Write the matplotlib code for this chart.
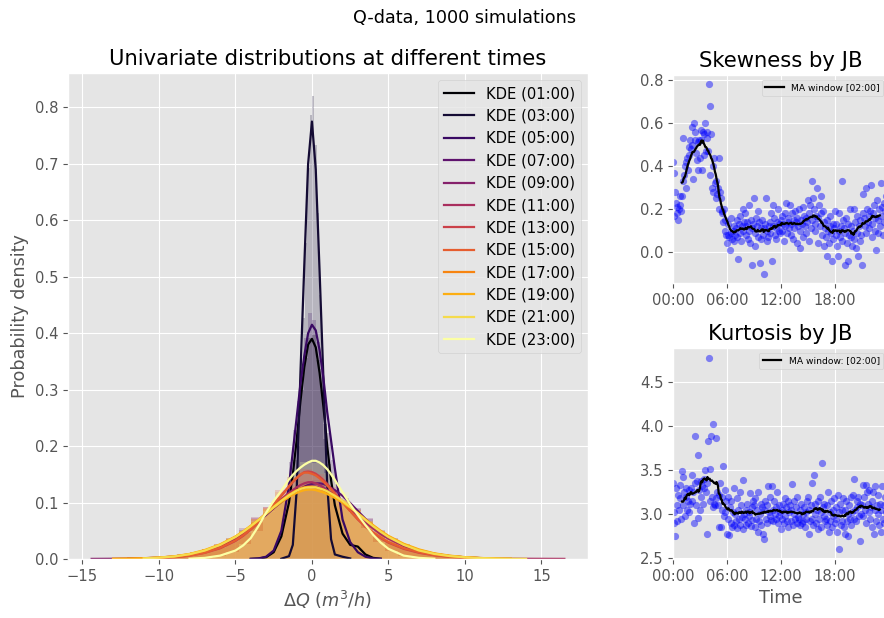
import numpy as np
import pandas as pd
import matplotlib
matplotlib.use("Agg")
import matplotlib.pyplot as plt
from matplotlib.ticker import FuncFormatter, MultipleLocator

plt.style.use("ggplot")
plt.rcParams["font.size"] = 10.6

NA = np.nan

# ---------------------------------------------------------------- left panel data
time_labels = ["01:00", "03:00", "05:00", "07:00", "09:00", "11:00",
               "13:00", "15:00", "17:00", "19:00", "21:00", "23:00"]

# evaluation grid of the kernel density estimates (m3/h)
kde_x = [-14.4, -13, -12, -11, -10, -9, -8, -7, -6, -5, -4.5, -4, -3.5, -3, -2.5, -2,
         -1.5, -1.25, -1, -0.75, -0.5, -0.25, 0, 0.25, 0.5, 0.75, 1, 1.25, 1.5,
         2, 2.5, 3, 3.5, 4, 4.5, 5, 6, 7, 8, 9, 10, 11, 12, 13, 14, 15, 16.5]

kde_0100 = [NA, NA, NA, NA, NA, NA, NA, NA, NA, NA, NA,
            0.0002, 0.0008, 0.003, 0.012, 0.040, 0.100, 0.150, 0.210, 0.280, 0.340, 0.380,
            0.390, 0.375, 0.330, 0.270, 0.200, 0.140, 0.095, 0.045, 0.025, 0.022, 0.008,
            0.002, 0.0005,
            NA, NA, NA, NA, NA, NA, NA, NA, NA, NA, NA, NA]
kde_0300 = [NA, NA, NA, NA, NA, NA, NA, NA, NA, NA, NA, NA, NA, NA, NA,
            0.0005, 0.005, 0.025, 0.120, 0.330, 0.520, 0.700, 0.775, 0.690, 0.510, 0.320,
            0.130, 0.035, 0.008, 0.004, 0.001,
            NA, NA, NA, NA, NA, NA, NA, NA, NA, NA, NA, NA, NA, NA, NA, NA]
kde_0500 = [NA, NA, NA, NA, NA, NA, NA, NA, NA, NA, NA,
            0.0003, 0.001, 0.004, 0.015, 0.050, 0.130, 0.190, 0.250, 0.310, 0.360, 0.400,
            0.415, 0.405, 0.370, 0.320, 0.260, 0.210, 0.160, 0.070, 0.030, 0.012, 0.004,
            0.001, 0.0003,
            NA, NA, NA, NA, NA, NA, NA, NA, NA, NA, NA, NA]
kde_0700 = [NA, NA,
            0.0005, 0.001, 0.002, 0.004, 0.007, 0.013, 0.022, 0.036, 0.045, 0.055, 0.066,
            0.078, 0.090, 0.101, 0.111, 0.116, 0.120, 0.124, 0.128, 0.131, 0.133, 0.134,
            0.134, 0.133, 0.130, 0.126, 0.122, 0.112, 0.099, 0.085, 0.071, 0.058, 0.047,
            0.038, 0.024, 0.015, 0.009, 0.005, 0.003, 0.0015, 0.0008, 0.0003,
            NA, NA, NA]
kde_0900 = [0.0002, 0.0004, 0.0008, 0.0014, 0.0025, 0.0045, 0.008, 0.014, 0.024, 0.038,
            0.047, 0.057, 0.068, 0.080, 0.092, 0.103, 0.113, 0.117, 0.121, 0.124, 0.126,
            0.128, 0.128, 0.128, 0.126, 0.123, 0.120, 0.116, 0.112, 0.102, 0.091, 0.080,
            0.068, 0.057, 0.047, 0.038, 0.025, 0.015, 0.009, 0.005, 0.0028, 0.0014, 0.0006,
            NA, NA, NA, NA]
kde_1100 = [NA, NA,
            0.0006, 0.0012, 0.0022, 0.004, 0.0075, 0.013, 0.023, 0.037, 0.046, 0.056, 0.068,
            0.081, 0.094, 0.106, 0.117, 0.122, 0.127, 0.131, 0.134, 0.136, 0.136, 0.134,
            0.131, 0.127, 0.122, 0.117, 0.112, 0.101, 0.089, 0.077, 0.065, 0.054, 0.044,
            0.036, 0.023, 0.014, 0.0085, 0.005, 0.003, 0.0017, 0.001, 0.0006, 0.0004,
            0.0003, 0.0002]
kde_1300 = [NA, NA, NA,
            0.0008, 0.0016, 0.003, 0.006, 0.011, 0.019, 0.032, 0.041, 0.052, 0.065, 0.080,
            0.096, 0.112, 0.128, 0.136, 0.143, 0.149, 0.154, 0.155, 0.154, 0.151, 0.146,
            0.140, 0.133, 0.125, 0.117, 0.101, 0.085, 0.070, 0.057, 0.046, 0.037, 0.029,
            0.018, 0.011, 0.0065, 0.0038, 0.002, 0.001, 0.0005,
            NA, NA, NA, NA]
kde_1500 = [NA, NA, NA,
            0.0008, 0.0017, 0.0032, 0.006, 0.011, 0.020, 0.033, 0.042, 0.053, 0.066, 0.081,
            0.097, 0.113, 0.129, 0.137, 0.144, 0.150, 0.153, 0.153, 0.151, 0.148, 0.143,
            0.137, 0.130, 0.123, 0.115, 0.100, 0.085, 0.071, 0.058, 0.047, 0.038, 0.030,
            0.019, 0.012, 0.007, 0.004, 0.0022, 0.0012, 0.0006,
            NA, NA, NA, NA]
kde_1700 = [NA,
            0.0003, 0.0006, 0.0012, 0.0024, 0.0045, 0.0085, 0.015, 0.025, 0.039, 0.048,
            0.058, 0.069, 0.081, 0.093, 0.104, 0.114, 0.118, 0.122, 0.125, 0.127, 0.128,
            0.128, 0.127, 0.125, 0.122, 0.119, 0.115, 0.111, 0.102, 0.092, 0.081, 0.070,
            0.059, 0.049, 0.040, 0.026, 0.016, 0.0095, 0.0055, 0.003, 0.0016, 0.0008, 0.0004,
            NA, NA, NA]
kde_1900 = [NA,
            0.0003, 0.0007, 0.0013, 0.0026, 0.0048, 0.009, 0.016, 0.026, 0.040, 0.049,
            0.059, 0.069, 0.080, 0.091, 0.101, 0.110, 0.114, 0.117, 0.120, 0.122, 0.123,
            0.123, 0.122, 0.120, 0.118, 0.115, 0.112, 0.108, 0.100, 0.091, 0.081, 0.070,
            0.060, 0.050, 0.041, 0.027, 0.017, 0.010, 0.006, 0.0033, 0.0018, 0.0009, 0.0004,
            NA, NA, NA]
kde_2100 = [NA, NA, NA,
            0.0012, 0.0024, 0.0045, 0.0085, 0.015, 0.025, 0.039, 0.048, 0.058, 0.069, 0.080,
            0.092, 0.103, 0.113, 0.117, 0.121, 0.124, 0.126, 0.127, 0.127, 0.127, 0.125,
            0.123, 0.120, 0.116, 0.112, 0.103, 0.092, 0.081, 0.069, 0.058, 0.048, 0.039,
            0.025, 0.015, 0.009, 0.0052, 0.003, 0.0017, 0.0009, 0.0005, 0.0003,
            NA, NA]
kde_2300 = [NA, NA, NA, NA, NA, NA,
            0.0005, 0.002, 0.006, 0.015, 0.024, 0.037, 0.058, 0.082, 0.103, 0.121, 0.141,
            0.149, 0.156, 0.162, 0.167, 0.171, 0.174, 0.174, 0.171, 0.166, 0.159, 0.150,
            0.140, 0.118, 0.097, 0.078, 0.060, 0.043, 0.029, 0.018, 0.006, 0.002, 0.0005,
            NA, NA, NA, NA, NA, NA, NA, NA]

# histogram bin edges (m3/h) and normalised bar heights
edges_0100 = np.linspace(-3.0, 4.0, 29)
edges_0300 = np.linspace(-1.5, 1.5, 21)
edges_0500 = np.linspace(-3.0, 4.0, 29)
edges_broad = np.linspace(-10.4, 11.2, 28)

hist_0100 = [0.004, 0.008, 0.016, 0.032, 0.052, 0.084, 0.128, 0.176, 0.236, 0.300, 0.356,
             0.392, 0.396, 0.352, 0.300, 0.240, 0.168, 0.120, 0.080, 0.052, 0.036, 0.024,
             0.028, 0.020, 0.016, 0.008, 0.004, 0.004]
hist_0300 = [0.004, 0.013, 0.040, 0.093, 0.200, 0.307, 0.427, 0.560, 0.693, 0.787, 0.820,
             0.733, 0.613, 0.467, 0.333, 0.213, 0.107, 0.040, 0.013, 0.007]
hist_0500 = [0.004, 0.008, 0.020, 0.040, 0.072, 0.116, 0.172, 0.228, 0.280, 0.340, 0.392,
             0.436, 0.424, 0.384, 0.336, 0.272, 0.224, 0.176, 0.132, 0.084, 0.056, 0.032,
             0.024, 0.012, 0.008, 0.004, 0.004, 0.0]
hist_0700 = [0.001, 0.003, 0.006, 0.010, 0.018, 0.022, 0.038, 0.052, 0.064, 0.085, 0.110,
             0.118, 0.125, 0.140, 0.122, 0.098, 0.090, 0.070, 0.046, 0.038, 0.022, 0.018,
             0.011, 0.008, 0.004, 0.003, 0.001]
hist_0900 = [0.002, 0.004, 0.008, 0.012, 0.015, 0.026, 0.033, 0.055, 0.072, 0.084, 0.102,
             0.124, 0.132, 0.126, 0.112, 0.108, 0.081, 0.072, 0.052, 0.032, 0.027, 0.015,
             0.013, 0.007, 0.006, 0.002, 0.002]
hist_1100 = [0.001, 0.003, 0.006, 0.011, 0.017, 0.025, 0.036, 0.046, 0.074, 0.092, 0.101,
             0.126, 0.138, 0.131, 0.114, 0.100, 0.088, 0.063, 0.050, 0.036, 0.023, 0.018,
             0.010, 0.009, 0.004, 0.003, 0.002]
hist_1300 = [0.001, 0.002, 0.004, 0.008, 0.013, 0.020, 0.030, 0.046, 0.066, 0.092, 0.118,
             0.142, 0.160, 0.150, 0.128, 0.102, 0.082, 0.058, 0.042, 0.030, 0.020, 0.013,
             0.008, 0.005, 0.003, 0.002, 0.001]
hist_1500 = [0.001, 0.002, 0.005, 0.008, 0.014, 0.019, 0.032, 0.048, 0.070, 0.088, 0.122,
             0.146, 0.154, 0.146, 0.124, 0.104, 0.078, 0.061, 0.040, 0.029, 0.019, 0.012,
             0.009, 0.005, 0.003, 0.001, 0.001]
hist_1700 = [0.002, 0.003, 0.007, 0.011, 0.017, 0.026, 0.036, 0.050, 0.066, 0.090, 0.106,
             0.121, 0.131, 0.127, 0.116, 0.104, 0.086, 0.068, 0.047, 0.036, 0.025, 0.016,
             0.012, 0.007, 0.005, 0.003, 0.001]
hist_1900 = [0.001, 0.004, 0.006, 0.012, 0.016, 0.024, 0.037, 0.048, 0.070, 0.086, 0.104,
             0.118, 0.126, 0.124, 0.120, 0.100, 0.086, 0.065, 0.050, 0.034, 0.026, 0.017,
             0.011, 0.008, 0.004, 0.003, 0.002]
hist_2100 = [0.001, 0.003, 0.006, 0.010, 0.016, 0.025, 0.034, 0.050, 0.068, 0.088, 0.108,
             0.120, 0.128, 0.130, 0.118, 0.102, 0.084, 0.067, 0.048, 0.036, 0.024, 0.016,
             0.012, 0.008, 0.005, 0.003, 0.002]
hist_2300 = [0.0, 0.0, 0.0, 0.001, 0.002, 0.005, 0.012, 0.026, 0.050, 0.085, 0.118, 0.150,
             0.172, 0.170, 0.152, 0.118, 0.085, 0.055, 0.030, 0.014, 0.006, 0.002, 0.001,
             0.0, 0.0, 0.0, 0.0]

# ---------------------------------------------------------------- right panel data
# Jarque-Bera skewness every 5 minutes, one row per hour (00:00 ... 23:55)
skew_by_hour = [
    [0.42, 0.17, 0.37, 0.28, 0.23, 0.18, 0.21, 0.15, 0.20, 0.26, 0.22, 0.19],
    [0.26, 0.33, 0.53, 0.36, 0.40, 0.30, 0.42, 0.44, 0.38, 0.49, 0.45, 0.52],
    [0.48, 0.50, 0.58, 0.34, 0.60, 0.56, 0.52, 0.46, 0.43, 0.51, 0.38, 0.52],
    [0.44, 0.57, 0.52, 0.38, 0.56, 0.45, 0.55, 0.60, 0.47, 0.56, 0.53, 0.47],
    [0.78, 0.68, 0.36, 0.55, 0.30, 0.40, 0.28, 0.44, 0.32, 0.25, 0.33, 0.27],
    [0.30, 0.44, 0.20, 0.28, 0.25, 0.19, 0.18, 0.14, 0.20, 0.10, 0.15, 0.08],
    [0.04, 0.08, 0.13, 0.07, 0.01, 0.09, 0.16, 0.06, 0.10, 0.05, 0.12, 0.08],
    [0.11, 0.15, 0.07, -0.03, 0.13, 0.09, 0.17, 0.05, 0.12, 0.20, 0.10, 0.14],
    [0.18, 0.08, 0.12, 0.14, 0.06, 0.22, 0.10, 0.04, 0.15, -0.06, 0.11, 0.13],
    [0.25, 0.03, 0.09, 0.16, 0.12, 0.07, 0.19, 0.14, -0.05, 0.11, 0.06, 0.15],
    [0.08, -0.10, 0.11, 0.13, 0.25, 0.10, 0.05, 0.07, 0.12, 0.14, 0.09, 0.18],
    [-0.04, 0.12, 0.22, 0.16, 0.08, 0.06, 0.11, 0.14, 0.20, 0.10, 0.13, 0.09],
    [0.15, 0.10, 0.17, 0.13, 0.05, 0.18, 0.12, 0.23, 0.09, 0.14, 0.16, 0.11],
    [0.22, 0.08, 0.13, 0.18, 0.06, 0.15, 0.11, 0.19, 0.14, 0.04, 0.16, 0.12],
    [0.20, 0.10, 0.02, 0.15, 0.13, 0.21, 0.07, 0.17, 0.12, 0.16, 0.09, 0.14],
    [0.24, 0.05, 0.18, 0.22, 0.11, 0.33, 0.15, 0.25, 0.20, 0.13, 0.10, 0.17],
    [0.30, 0.16, 0.04, 0.22, 0.12, 0.18, 0.26, 0.08, 0.19, 0.03, 0.14, 0.11],
    [0.07, -0.02, 0.15, 0.10, 0.04, 0.12, 0.17, 0.09, -0.04, 0.13, 0.06, 0.11],
    [0.19, 0.08, 0.13, 0.03, -0.02, 0.10, 0.18, 0.07, 0.12, 0.33, 0.05, 0.15],
    [0.11, -0.06, 0.09, 0.16, 0.04, 0.13, -0.04, 0.08, 0.20, 0.07, 0.12, 0.03],
    [0.10, 0.20, 0.06, 0.14, 0.02, 0.09, 0.17, -0.02, 0.12, 0.05, 0.15, 0.08],
    [-0.06, 0.18, 0.27, 0.16, 0.12, 0.30, 0.09, 0.20, 0.14, 0.17, 0.11, 0.19],
    [0.31, 0.13, 0.07, 0.18, 0.22, 0.10, 0.16, 0.01, 0.24, 0.15, 0.09, 0.20],
    [0.12, 0.32, 0.17, 0.21, 0.08, 0.23, 0.14, 0.19, 0.26, 0.11, 0.18, 0.22],
]

# Jarque-Bera kurtosis every 5 minutes, one row per hour
kurt_by_hour = [
    [3.35, 3.03, 2.90, 2.75, 3.30, 3.10, 2.92, 3.22, 3.05, 3.33, 3.18, 2.95],
    [3.49, 3.42, 3.10, 3.25, 2.98, 3.20, 3.30, 3.05, 3.15, 3.28, 3.02, 3.12],
    [3.30, 3.15, 3.45, 3.25, 2.90, 3.89, 3.35, 3.10, 3.38, 2.96, 3.67, 3.28],
    [3.05, 3.38, 3.20, 3.32, 3.12, 3.40, 3.30, 3.50, 3.25, 2.78, 3.35, 3.83],
    [4.78, 3.51, 3.15, 3.89, 3.20, 4.02, 3.08, 3.12, 3.10, 3.87, 3.18, 3.25],
    [3.10, 2.85, 3.22, 3.35, 2.86, 3.20, 3.05, 3.55, 2.98, 3.28, 3.02, 3.15],
    [2.78, 3.20, 2.95, 2.76, 3.08, 2.90, 3.15, 2.85, 3.02, 3.30, 2.88, 3.00],
    [2.92, 3.18, 2.84, 3.05, 2.95, 3.25, 2.88, 3.10, 2.97, 2.83, 3.39, 3.00],
    [2.95, 3.05, 2.88, 3.12, 2.90, 3.02, 2.98, 3.24, 2.87, 3.08, 2.93, 3.15],
    [3.10, 2.85, 3.18, 2.95, 3.05, 2.80, 3.25, 2.92, 3.00, 3.12, 2.88, 3.08],
    [2.78, 2.72, 3.05, 3.15, 2.95, 3.10, 2.90, 3.32, 3.02, 2.98, 3.20, 2.93],
    [3.32, 3.05, 2.92, 3.15, 3.00, 2.95, 3.08, 3.25, 2.90, 3.10, 2.98, 3.02],
    [2.83, 3.05, 2.95, 3.12, 2.90, 3.18, 2.98, 3.08, 2.92, 3.15, 2.85, 3.02],
    [3.10, 2.92, 3.05, 3.34, 2.88, 3.00, 3.15, 2.95, 3.08, 2.90, 3.20, 2.97],
    [2.95, 3.05, 2.88, 3.12, 2.90, 3.00, 2.92, 3.08, 2.85, 3.02, 2.94, 3.15],
    [3.20, 2.78, 3.05, 2.92, 3.10, 2.95, 3.36, 2.88, 3.45, 3.00, 3.12, 2.90],
    [3.05, 2.83, 3.15, 2.95, 3.20, 3.02, 2.85, 3.58, 3.08, 2.98, 3.12, 2.92],
    [2.95, 3.10, 2.88, 3.25, 2.80, 3.02, 2.92, 3.15, 2.85, 3.05, 2.98, 3.18],
    [2.90, 3.08, 2.95, 2.80, 3.22, 3.02, 2.60, 3.12, 2.88, 3.05, 2.92, 3.18],
    [2.85, 3.05, 2.78, 3.15, 2.92, 3.00, 2.75, 3.10, 2.95, 3.20, 2.88, 3.02],
    [3.22, 2.95, 3.40, 3.05, 2.92, 3.15, 3.08, 3.20, 2.98, 2.70, 3.12, 3.00],
    [3.10, 3.33, 2.98, 3.20, 3.05, 3.33, 2.90, 3.25, 3.12, 3.02, 3.28, 2.95],
    [3.08, 2.85, 3.15, 3.25, 2.78, 3.05, 3.32, 2.92, 3.10, 3.00, 3.22, 2.88],
    [3.12, 2.80, 3.05, 3.32, 2.95, 3.10, 2.90, 3.20, 3.02, 2.98, 3.15, 3.08],
]

ma_window = 24  # samples (2 hours at 5-minute resolution)

# ---------------------------------------------------------------- figure
fig = plt.figure(figsize=(8.84, 6.18), dpi=100)
W, H = 884.0, 618.0
ax_main = fig.add_axes([68 / W, 59 / H, 520 / W, 486 / H])
ax_skew = fig.add_axes([673 / W, 335 / H, 215 / W, 208 / H])
ax_kurt = fig.add_axes([673 / W, 59 / H, 215 / W, 211 / H])

colors = plt.cm.inferno(np.linspace(0, 1, len(time_labels)))
kde_series = [kde_0100, kde_0300, kde_0500, kde_0700, kde_0900, kde_1100,
              kde_1300, kde_1500, kde_1700, kde_1900, kde_2100, kde_2300]
hist_series = [(edges_0100, hist_0100), (edges_0300, hist_0300), (edges_0500, hist_0500),
               (edges_broad, hist_0700), (edges_broad, hist_0900), (edges_broad, hist_1100),
               (edges_broad, hist_1300), (edges_broad, hist_1500), (edges_broad, hist_1700),
               (edges_broad, hist_1900), (edges_broad, hist_2100), (edges_broad, hist_2300)]

for label, col, (edges, heights), dens in zip(time_labels, colors, hist_series, kde_series):
    ax_main.stairs(heights, edges, fill=True, color=col, alpha=0.22, linewidth=0)
    ax_main.plot(kde_x, np.array(dens, dtype=float), color=col, lw=1.6,
                 label=f"KDE ({label})")

ax_main.set_title("Univariate distributions at different times")
ax_main.set_xlabel(r"$\Delta Q$ ($m^3/h$)")
ax_main.set_ylabel("Probability density")
ax_main.legend(loc="upper right")

# time axis in hours
t_hours = np.arange(24 * 12) / 12.0
hour_fmt = FuncFormatter(lambda v, p: f"{int(round(v)) % 24:02d}:00")

for ax, rows, title, ma_label in [
        (ax_skew, skew_by_hour, "Skewness by JB", "MA window [02:00]"),
        (ax_kurt, kurt_by_hour, "Kurtosis by JB", "MA window: [02:00]")]:
    vals = np.array(rows, dtype=float).ravel()
    ma = pd.Series(vals).rolling(ma_window, center=True).mean()
    ax.scatter(t_hours, vals, s=27, color="blue", alpha=0.45, linewidths=0)
    ax.plot(t_hours, ma, color="black", lw=1.6, label=ma_label)
    ax.set_xlim(t_hours[0], t_hours[-1])
    ax.xaxis.set_major_locator(MultipleLocator(6))
    ax.xaxis.set_major_formatter(hour_fmt)
    ax.set_title(title)
    ax.legend(loc="upper right", fontsize=6.6)

ax_kurt.set_xlabel("Time")

fig.suptitle("Q-data, 1000 simulations", x=0.526, y=0.985, fontsize=12.7)

fig.savefig("out.png", dpi=100)
